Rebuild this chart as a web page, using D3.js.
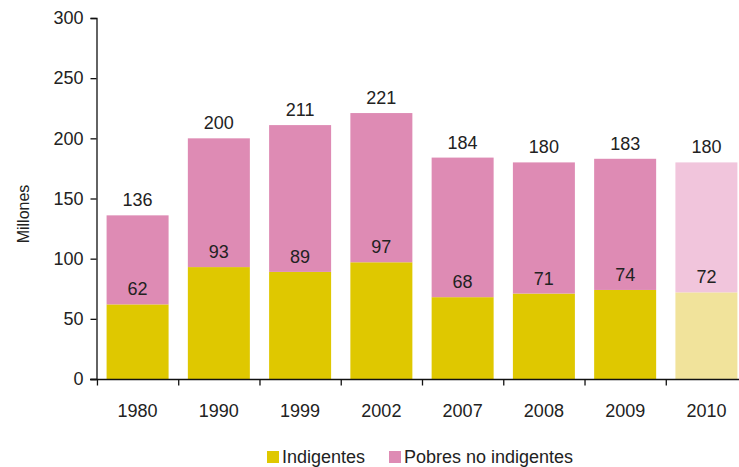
<!DOCTYPE html>
<html>
<head>
<meta charset="utf-8">
<script src="https://cdn.jsdelivr.net/npm/d3@7"></script>
<style>
  body { margin: 0; background: #fff; }
  text { font-family: "Liberation Sans", Arial, sans-serif; fill: #222; }
</style>
</head>
<body>
<div id="chart"></div>
<script>
const years = ['1980', '1990', '1999', '2002', '2007', '2008', '2009', '2010'];
const indigentes = [62, 93, 89, 97, 68, 71, 74, 72];
const noIndigentes = [74, 107, 122, 124, 116, 109, 109, 108];
const totals = [136, 200, 211, 221, 184, 180, 183, 180];
const yTicks = [0, 50, 100, 150, 200, 250, 300];

const width = 739, height = 467;
const colors = { ind: '#dfc800', pob: '#de8bb4', indLight: '#f1e39b', pobLight: '#f1c5dc' };

const svg = d3.select('#chart').append('svg')
    .attr('width', width)
    .attr('height', height);

const x = d3.scaleBand().domain(years).range([97, 747]).paddingInner(0.237).paddingOuter(0.118);
const y = d3.scaleLinear().domain([0, 300]).range([379, 18]);

// bars
const g = svg.append('g');
years.forEach((yr, i) => {
    const last = i === years.length - 1;
    g.append('rect')
        .attr('x', x(yr)).attr('width', x.bandwidth())
        .attr('y', y(indigentes[i])).attr('height', y(0) - y(indigentes[i]))
        .attr('fill', last ? colors.indLight : colors.ind);
    g.append('rect')
        .attr('x', x(yr)).attr('width', x.bandwidth())
        .attr('y', y(indigentes[i] + noIndigentes[i])).attr('height', y(indigentes[i]) - y(indigentes[i] + noIndigentes[i]))
        .attr('fill', last ? colors.pobLight : colors.pob);
    g.append('text')
        .attr('x', x(yr) + x.bandwidth() / 2).attr('y', y(totals[i]) - 9)
        .attr('text-anchor', 'middle').style('font-size', '18px')
        .text(totals[i]);
    g.append('text')
        .attr('x', x(yr) + x.bandwidth() / 2).attr('y', y(indigentes[i]) - 9)
        .attr('text-anchor', 'middle').style('font-size', '18px')
        .text(indigentes[i]);
});

// y axis
const yAxis = svg.append('g')
    .attr('transform', 'translate(96.5,0)')
    .call(d3.axisLeft(y).tickValues(yTicks).tickSize(6).tickPadding(7));
yAxis.selectAll('text').style('font-size', '18px').attr('fill', '#222');
yAxis.selectAll('path, line').attr('stroke', '#111').attr('stroke-width', 1.3);

// x axis
const xAxis = svg.append('g')
    .attr('transform', 'translate(0,379.5)');
xAxis.append('line').attr('x1', 90).attr('x2', width).attr('stroke', '#111').attr('stroke-width', 1.3);
xAxis.selectAll('.tk').data(years).enter().append('line')
    .attr('x1', d => x(d) - x.step() * x.paddingInner() / 2 + 0.5)
    .attr('x2', d => x(d) - x.step() * x.paddingInner() / 2 + 0.5)
    .attr('y1', 0).attr('y2', 6)
    .attr('stroke', '#111').attr('stroke-width', 1.3);
xAxis.selectAll('.lbl').data(years).enter().append('text')
    .attr('x', d => x(d) + x.bandwidth() / 2).attr('y', 37)
    .attr('text-anchor', 'middle').style('font-size', '18px')
    .text(d => d);

// y title
svg.append('text')
    .attr('transform', 'translate(29,214) rotate(-90)')
    .attr('text-anchor', 'middle').style('font-size', '16px')
    .text('Millones');

// legend
const legend = [
    { label: 'Indigentes', color: colors.ind, x: 267 },
    { label: 'Pobres no indigentes', color: colors.pob, x: 389 }
];
legend.forEach(l => {
    svg.append('rect').attr('x', l.x).attr('y', 451).attr('width', 12).attr('height', 12).attr('fill', l.color);
    svg.append('text').attr('x', l.x + 15).attr('y', 463).style('font-size', '18px').text(l.label);
});
</script>
</body>
</html>
